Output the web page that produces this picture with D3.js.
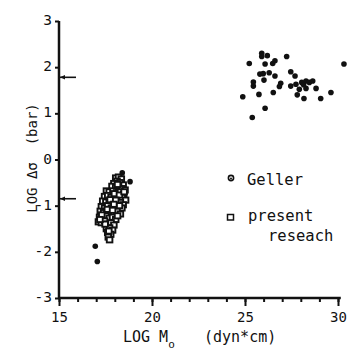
<!DOCTYPE html>
<html>
<head>
<meta charset="utf-8">
<script src="https://cdn.jsdelivr.net/npm/d3@7"></script>
<style>
	body { margin: 0; background: #fff; }
	svg text { font-family: "DejaVu Sans Mono", monospace; fill: #111; }
	.axis path, .axis line { stroke: #111; }
</style>
</head>
<body>
<div id="chart"></div>
<script>
	// Geller data (filled circles)
	var geller = [
		[25.9, 2.30], [25.9, 2.23], [26.2, 2.25], [27.24, 2.23], [25.23, 2.08],
		[26.08, 2.07], [26.49, 2.08], [26.61, 2.14], [30.32, 2.07], [25.8, 1.85],
		[25.98, 1.86], [26.3, 1.88], [26.61, 1.81], [27.46, 1.90], [27.69, 1.81],
		[25.45, 1.68], [25.45, 1.59], [26.02, 1.72], [26.92, 1.65], [26.85, 1.58],
		[27.46, 1.59], [27.74, 1.63], [28.05, 1.67], [28.28, 1.70], [28.46, 1.67],
		[28.64, 1.70], [28.15, 1.62], [27.92, 1.52], [28.28, 1.54], [28.82, 1.54],
		[24.88, 1.36], [25.75, 1.41], [26.52, 1.45], [27.81, 1.40], [28.17, 1.32],
		[29.07, 1.32], [29.62, 1.45], [26.08, 1.11], [25.39, 0.91]
	];

	// present research (hollow squares)
	var present = [
		[18.05, -0.40], [18.2, -0.38], [18.35, -0.42], [18.12, -0.47], [17.95, -0.52],
		[18.28, -0.50], [18.45, -0.55], [17.85, -0.58], [18.05, -0.60], [18.2, -0.58],
		[18.38, -0.63], [18.55, -0.66], [17.55, -0.68], [17.7, -0.70], [17.9, -0.68],
		[18.1, -0.72], [18.3, -0.70], [18.48, -0.75], [17.45, -0.80], [17.62, -0.78],
		[17.8, -0.82], [18.0, -0.80], [18.2, -0.85], [18.4, -0.82], [18.58, -0.88],
		[17.35, -0.90], [17.52, -0.92], [17.7, -0.95], [17.92, -0.90], [18.1, -0.95],
		[18.3, -0.93], [18.45, -0.98], [17.28, -1.02], [17.45, -1.05], [17.62, -1.00],
		[17.82, -1.05], [18.0, -1.02], [18.2, -1.08], [18.38, -1.05], [17.22, -1.12],
		[17.4, -1.15], [17.58, -1.12], [17.78, -1.18], [17.95, -1.15], [18.12, -1.12],
		[18.3, -1.18], [17.18, -1.25], [17.35, -1.28], [17.52, -1.22], [17.7, -1.27],
		[17.88, -1.25], [18.05, -1.30], [17.12, -1.35], [17.28, -1.37], [17.45, -1.33],
		[17.62, -1.40], [17.8, -1.37], [17.95, -1.42], [17.55, -1.50], [17.72, -1.48],
		[17.88, -1.53], [17.62, -1.58], [17.78, -1.62], [17.65, -1.68], [17.72, -1.74],
		[18.15, -0.54], [17.98, -0.74], [18.25, -0.77], [17.75, -0.87], [18.05, -0.88],
		[17.6, -1.08], [17.88, -1.10], [18.25, -1.00], [17.48, -1.40], [17.3, -1.20],
		[17.68, -1.55], [18.15, -1.22], [17.95, -0.97], [18.5, -0.70], [17.2, -1.30]
	];

	// isolated points near the small-event cluster
	var outliers = [[18.4, -0.29], [18.82, -0.48], [16.95, -1.88], [17.06, -2.21]];

	// arrows on the y axis
	var arrowLevels = [1.78, -0.85];

	var xMinorTicks = d3.range(15, 31);
	var xTickLabels = [15, 20, 25, 30];
	var yTickLabels = [-3, -2, -1, 0, 1, 2, 3];

	var width = 348, height = 351;

	var svg = d3.select('#chart').append('svg')
		.attr('width', width)
		.attr('height', height);

	var x = d3.scaleLinear().domain([15, 30]).range([59, 338]);
	var y = d3.scaleLinear().domain([-3, 3]).range([298, 21]);

	// x axis: minor ticks every unit, longer ticks at labels
	svg.append('g')
		.attr('class', 'axis')
		.attr('transform', 'translate(0,' + y(-3) + ')')
		.call(d3.axisBottom(x).tickValues(xMinorTicks).tickSize(4).tickSizeOuter(0).tickFormat(''))
		.call(function (g) { g.select('.domain').remove(); })
		.selectAll('line').attr('stroke-width', 2);

	svg.append('g')
		.attr('class', 'axis')
		.attr('transform', 'translate(0,' + y(-3) + ')')
		.call(d3.axisBottom(x).tickValues(xTickLabels).tickSize(8).tickPadding(6).tickSizeOuter(0).tickFormat(function (d) { return String(d); }))
		.call(function (g) {
			g.select('.domain').remove();
			g.selectAll('line').attr('stroke-width', 2);
			g.selectAll('text').attr('font-size', 14).attr('font-family', '"DejaVu Sans Mono", monospace');
		});

	// y axis
	svg.append('g')
		.attr('class', 'axis')
		.attr('transform', 'translate(' + x(15) + ',0)')
		.call(d3.axisLeft(y).tickValues(yTickLabels).tickSize(4).tickPadding(3).tickSizeOuter(0).tickFormat(function (d) { return String(d); }))
		.call(function (g) {
			g.select('.domain').remove();
			g.selectAll('line').attr('stroke-width', 2);
			g.selectAll('text').attr('font-size', 14.5).attr('dy', '0.25em').attr('font-family', '"DejaVu Sans Mono", monospace');
		});

	// axis lines
	svg.append('line')
		.attr('x1', x(15)).attr('x2', x(15))
		.attr('y1', y(3)).attr('y2', y(-3) + 1)
		.attr('stroke', '#111').attr('stroke-width', 2.5);
	svg.append('line')
		.attr('x1', x(15) - 1).attr('x2', x(30.15))
		.attr('y1', y(-3)).attr('y2', y(-3))
		.attr('stroke', '#111').attr('stroke-width', 2.5);

	// arrows pointing to the y axis
	arrowLevels.forEach(function (v) {
		var yy = y(v), x0 = x(15) + 1;
		svg.append('line')
			.attr('x1', x0).attr('x2', x0 + 16)
			.attr('y1', yy).attr('y2', yy)
			.attr('stroke', '#111').attr('stroke-width', 1.6);
		svg.append('path')
			.attr('d', 'M' + x0 + ',' + yy + 'l5,-2.2l0,4.4z')
			.attr('fill', '#111');
	});

	// present research squares
	svg.selectAll('.sq')
		.data(present)
		.enter().append('rect')
		.attr('class', 'sq')
		.attr('x', function (d) { return x(d[0]) - 2.8; })
		.attr('y', function (d) { return y(d[1]) - 2.6; })
		.attr('width', 5.6)
		.attr('height', 5.2)
		.attr('fill', '#fff')
		.attr('stroke', '#111')
		.attr('stroke-width', 1.9);

	// Geller circles
	svg.selectAll('.dot')
		.data(geller.concat(outliers))
		.enter().append('circle')
		.attr('class', 'dot')
		.attr('cx', function (d) { return x(d[0]); })
		.attr('cy', function (d) { return y(d[1]); })
		.attr('r', 2.8)
		.attr('fill', '#111');

	// legend
	svg.append('circle').attr('cx', 231).attr('cy', 178).attr('r', 2.6)
		.attr('fill', '#fff').attr('stroke', '#111').attr('stroke-width', 1.6);
	svg.append('circle').attr('cx', 231).attr('cy', 178.6).attr('r', 1).attr('fill', '#111');
	svg.append('text').attr('x', 247).attr('y', 185).attr('font-size', 15.5).text('Geller');

	svg.append('rect').attr('x', 227.5).attr('y', 214.5).attr('width', 6).attr('height', 5.5)
		.attr('fill', '#fff').attr('stroke', '#111').attr('stroke-width', 1.5);
	svg.append('text').attr('x', 248).attr('y', 221).attr('font-size', 15.5).text('present');
	svg.append('text').attr('x', 268).attr('y', 241).attr('font-size', 15.5).text('reseach');

	// axis titles
	var xt = svg.append('text').attr('x', 123).attr('y', 342).attr('font-size', 15);
	xt.append('tspan').text('LOG M');
	xt.append('tspan').attr('dy', 6).attr('font-size', 11).text('o');
	xt.append('tspan').attr('x', 204).attr('dy', -6).text('(dyn*cm)');

	svg.append('text')
		.attr('transform', 'translate(37,158) rotate(-90)')
		.attr('text-anchor', 'middle')
		.attr('font-size', 14)
		.attr('xml:space', 'preserve')
		.text('LOG \u0394\u03c3  (bar)');
</script>
</body>
</html>
